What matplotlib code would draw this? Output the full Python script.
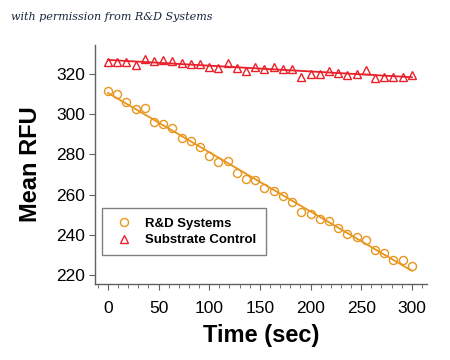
import numpy as np
import matplotlib
matplotlib.use("Agg")
import matplotlib.pyplot as plt
from matplotlib.ticker import MultipleLocator

# sampling times (sec), 34 reads across 300 s
time_s = [0.0, 9.1, 18.2, 27.3, 36.4, 45.5, 54.5, 63.6, 72.7, 81.8,
          90.9, 100.0, 109.1, 118.2, 127.3, 136.4, 145.5, 154.5, 163.6, 172.7,
          181.8, 190.9, 200.0, 209.1, 218.2, 227.3, 236.4, 245.5, 254.5, 263.6,
          272.7, 281.8, 290.9, 300.0]

rnd_rfu = [311.6, 309.9, 306.2, 302.5, 303.3, 296.3, 295.2, 293.3, 288.4, 286.7,
           283.9, 279.4, 276.1, 276.9, 270.8, 268.0, 267.3, 263.2, 261.7, 259.5,
           256.6, 251.4, 250.6, 248.0, 247.1, 243.3, 240.5, 239.2, 237.5, 232.6,
           230.9, 227.3, 227.3, 224.8]

ctrl_rfu = [325.8, 325.8, 325.8, 324.5, 327.5, 326.6, 327.0, 326.6, 325.5, 324.8,
            325.0, 323.6, 323.0, 325.3, 322.8, 321.6, 323.6, 322.3, 323.5, 322.6,
            322.6, 318.7, 319.9, 319.9, 321.5, 320.3, 319.7, 320.2, 322.1, 318.0,
            318.7, 318.7, 318.4, 319.7]

ORANGE = "#E8961E"
RED = "#E8202A"

plt.rcParams["font.family"] = ["Liberation Sans", "DejaVu Sans"]

fig = plt.figure(figsize=(4.5, 3.6), dpi=100)
ax = fig.add_axes([0.211, 0.211, 0.738, 0.664])

t = np.array(time_s)
for ys, col, mk, lab in [(rnd_rfu, ORANGE, "o", "R&D Systems"),
                         (ctrl_rfu, RED, "^", "Substrate Control")]:
    ys = np.array(ys)
    k, b = np.polyfit(t, ys, 1)
    ax.plot(t, ys, mk, mfc="none", mec=col, mew=1.0, ms=5.8, label=lab, zorder=3)
    ax.plot([t[0], t[-1]], [k * t[0] + b, k * t[-1] + b], "-", color=col, lw=1.3, zorder=2)

ax.set_xlim(-12.8, 315)
ax.set_ylim(215.6, 334.4)
ax.xaxis.set_major_locator(MultipleLocator(50))
ax.xaxis.set_minor_locator(MultipleLocator(10))
ax.yaxis.set_major_locator(MultipleLocator(20))

for s in ["top", "right"]:
    ax.spines[s].set_visible(False)
for s in ["left", "bottom"]:
    ax.spines[s].set_color("#606060")
    ax.spines[s].set_linewidth(1.0)

ax.tick_params(axis="both", which="both", direction="out", color="#606060", labelsize=12.5)
ax.tick_params(axis="x", which="major", length=4, pad=8)
ax.tick_params(axis="x", which="minor", length=3)
ax.tick_params(axis="y", which="major", length=4, pad=3)

ax.set_xlabel("Time (sec)", fontsize=17, fontweight="bold", labelpad=6)
ax.set_ylabel("Mean RFU", fontsize=17, fontweight="bold", labelpad=10)

leg = ax.legend(loc="lower left", bbox_to_anchor=(0.02, 0.12),
                prop={"weight": "bold", "size": 9.5}, frameon=True, fancybox=False,
                edgecolor="#606060", borderpad=0.7, handletextpad=0.6,
                labelspacing=0.3, borderaxespad=0)
leg.get_frame().set_linewidth(1.0)

fig.text(0.025, 0.945, "with permission from R&D Systems", fontsize=8, style="italic",
         family="DejaVu Serif", color="#1a2440")

fig.savefig("out.png", dpi=100)
